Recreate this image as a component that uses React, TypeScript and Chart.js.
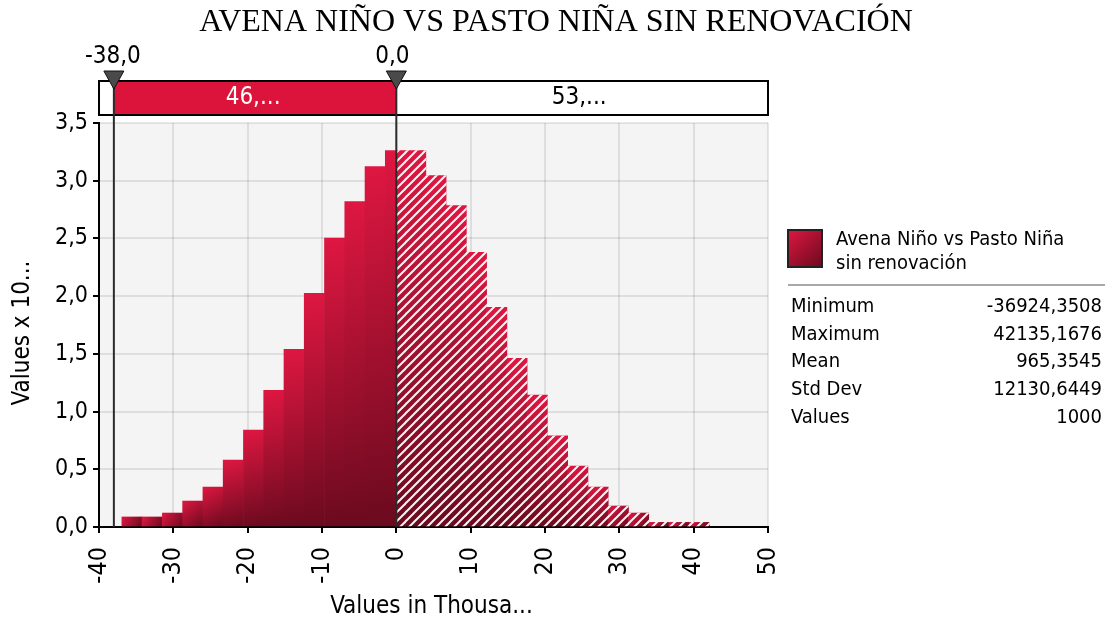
import React, { useEffect, useRef } from 'react';
import { Chart, registerables } from 'chart.js';

Chart.register(...registerables);

// ---------- data ----------
const TITLE = 'AVENA NIÑO VS PASTO NIÑA SIN RENOVACIÓN';
const X_TITLE = 'Values in Thousa...';
const Y_TITLE = 'Values x 10...';

// histogram bins (thousands) – centers of 29 equal bins between min and max
const binCenters = [
  -35.561, -32.835, -30.109, -27.383, -24.657, -21.930, -19.204, -16.478, -13.752, -11.026,
  -8.300, -5.573, -2.847, -0.121, 2.605, 5.331, 8.057, 10.784, 13.510, 16.236,
  18.962, 21.688, 24.414, 27.141, 29.867, 32.593, 35.319, 38.045, 40.771,
];
const BIN_WIDTH = 2.7262;
// densities (x 10^-5)
const binValues = [
  0.087, 0.087, 0.121, 0.225, 0.346, 0.58, 0.839, 1.185, 1.54, 2.024,
  2.503, 2.82, 3.123, 3.26, 3.26, 3.045, 2.785, 2.379, 1.903, 1.462,
  1.142, 0.79, 0.528, 0.346, 0.182, 0.121, 0.04, 0.04, 0.04,
];

const X_MIN = -40;
const X_MAX = 50;
const X_STEP = 10;
const Y_MIN = 0;
const Y_MAX = 3.5;
const Y_STEP = 0.5;

const markerValues = [-38, 0];
const markerLabels = ['-38,0', '0,0'];
const regionLabels = ['46,...', '53,...'];

const legendName = ['Avena Niño vs Pasto Niña', 'sin renovación'];
const statLabels = ['Minimum', 'Maximum', 'Mean', 'Std Dev', 'Values'];
const statValues = ['-36924,3508', '42135,1676', '965,3545', '12130,6449', '1000'];

// ---------- style ----------
const SANS = "'DejaVu Sans Condensed', 'DejaVu Sans', sans-serif";
const SERIF = "'Liberation Serif', 'Times New Roman', serif";
const RED = '#dc143c';
const RED_TOP = '#de1741';
const RED_BOTTOM = '#6a0a1e';

function makeHatch(): CanvasPattern | string {
  const s = 9;
  const c = document.createElement('canvas');
  c.width = s;
  c.height = s;
  const p = c.getContext('2d');
  if (!p) return 'rgba(255,255,255,0.5)';
  p.strokeStyle = 'rgba(255,255,255,0.95)';
  p.lineWidth = 2;
  p.lineCap = 'square';
  p.beginPath();
  p.moveTo(0, s);
  p.lineTo(s, 0);
  p.moveTo(-s / 2, s / 2);
  p.lineTo(s / 2, -s / 2);
  p.moveTo(s / 2, s * 1.5);
  p.lineTo(s * 1.5, s / 2);
  p.stroke();
  const pat = p.createPattern(c, 'repeat');
  return pat || 'rgba(255,255,255,0.5)';
}

const decorPlugin = {
  id: 'decor',
  beforeDraw(chart: any) {
    const { ctx, chartArea: a } = chart;
    ctx.save();
    ctx.fillStyle = '#f4f4f4';
    ctx.fillRect(a.left, a.top, a.right - a.left, a.bottom - a.top);
    ctx.restore();
  },
  beforeDatasetDraw(chart: any, args: any) {
    if (args.index !== 0) return;
    const { ctx, chartArea: a } = chart;
    const x0 = chart.scales.x.getPixelForValue(markerValues[1]);
    ctx.save();
    ctx.beginPath();
    ctx.rect(x0, a.top - 5, a.right - x0 + 5, a.bottom - a.top + 10);
    ctx.clip();
  },
  afterDatasetDraw(chart: any, args: any) {
    if (args.index !== 0) return;
    chart.ctx.restore();
  },
  afterDraw(chart: any) {
    const { ctx, chartArea: a } = chart;
    const xs = chart.scales.x;
    ctx.save();

    // title
    ctx.fillStyle = '#000';
    ctx.font = `32px ${SERIF}`;
    ctx.textAlign = 'center';
    ctx.textBaseline = 'alphabetic';
    ctx.fillText(TITLE, 556, 31);

    // top delimiter bar
    const barTop = 81;
    const barBot = 115;
    const mx = markerValues.map((v) => xs.getPixelForValue(v));
    ctx.fillStyle = '#fff';
    ctx.fillRect(a.left, barTop, a.right - a.left, barBot - barTop);
    ctx.fillStyle = RED;
    ctx.fillRect(mx[0], barTop, mx[1] - mx[0], barBot - barTop);
    ctx.strokeStyle = '#000';
    ctx.lineWidth = 2;
    ctx.strokeRect(a.left, barTop, a.right - a.left, barBot - barTop);

    ctx.font = `24px ${SANS}`;
    ctx.textBaseline = 'middle';
    ctx.fillStyle = '#fff';
    ctx.fillText(regionLabels[0], (mx[0] + mx[1]) / 2 - 2, (barTop + barBot) / 2);
    ctx.fillStyle = '#000';
    ctx.fillText(regionLabels[1], (mx[1] + a.right) / 2 - 3, (barTop + barBot) / 2);

    // marker lines + triangles + labels
    mx.forEach((x, i) => {
      ctx.strokeStyle = '#2b2b2b';
      ctx.lineWidth = 2;
      ctx.beginPath();
      ctx.moveTo(x, 86);
      ctx.lineTo(x, a.bottom);
      ctx.stroke();

      ctx.beginPath();
      ctx.moveTo(x - 10, 71);
      ctx.lineTo(x + 10, 71);
      ctx.lineTo(x, 89);
      ctx.closePath();
      ctx.fillStyle = '#4a4a4a';
      ctx.fill();
      ctx.strokeStyle = '#111';
      ctx.lineWidth = 1;
      ctx.stroke();

      ctx.fillStyle = '#000';
      ctx.font = `24px ${SANS}`;
      ctx.textAlign = 'center';
      ctx.textBaseline = 'alphabetic';
      ctx.fillText(markerLabels[i], x - (i === 0 ? 1 : 4), 63);
    });

    // axis titles
    ctx.fillStyle = '#000';
    ctx.font = `24px ${SANS}`;
    ctx.textAlign = 'center';
    ctx.textBaseline = 'middle';
    ctx.fillText(X_TITLE, (a.left + a.right) / 2 - 2, 607);
    ctx.save();
    ctx.translate(23, 333);
    ctx.rotate(-Math.PI / 2);
    ctx.fillText(Y_TITLE, 0, 0);
    ctx.restore();

    // legend swatch
    const sx = 788, sy = 230, sw = 34, sh = 37;
    const g = ctx.createLinearGradient(sx, sy, sx + sw, sy + sh);
    g.addColorStop(0, RED_TOP);
    g.addColorStop(1, RED_BOTTOM);
    ctx.fillStyle = g;
    ctx.fillRect(sx, sy, sw, sh);
    ctx.strokeStyle = '#222';
    ctx.lineWidth = 2;
    ctx.strokeRect(sx, sy, sw, sh);

    ctx.fillStyle = '#000';
    ctx.font = `20px ${SANS}`;
    ctx.textAlign = 'left';
    ctx.textBaseline = 'alphabetic';
    ctx.fillText(legendName[0], 836, 245);
    ctx.fillText(legendName[1], 836, 269);

    ctx.strokeStyle = '#a8a8a8';
    ctx.lineWidth = 2;
    ctx.beginPath();
    ctx.moveTo(788, 285);
    ctx.lineTo(1105, 285);
    ctx.stroke();

    statLabels.forEach((lab, i) => {
      const yb = 312 + i * 27.7;
      ctx.textAlign = 'left';
      ctx.fillText(lab, 791, yb);
      ctx.textAlign = 'right';
      ctx.fillText(statValues[i], 1102, yb);
    });

    ctx.restore();
  },
};

export default function App() {
  const ref = useRef<HTMLCanvasElement | null>(null);

  useEffect(() => {
    const canvas = ref.current;
    if (!canvas) return;
    const points = binCenters.map((x, i) => ({ x, y: binValues[i] }));
    const hatch = makeHatch();

    const gradientFill = (c: any) => {
      const chart = c.chart;
      const raw = c.raw;
      const xs = chart.scales && chart.scales.x;
      const ys = chart.scales && chart.scales.y;
      if (!raw || !xs || !ys || !chart.chartArea) return '#a8102e';
      const l = xs.getPixelForValue(raw.x - BIN_WIDTH / 2);
      const r = xs.getPixelForValue(raw.x + BIN_WIDTH / 2);
      const t = ys.getPixelForValue(raw.y);
      const b = ys.getPixelForValue(0);
      const g = chart.ctx.createLinearGradient(l, t, r, b);
      g.addColorStop(0, RED_TOP);
      g.addColorStop(1, RED_BOTTOM);
      return g;
    };

    const gridCommon = {
      color: 'rgba(0,0,0,0.09)',
      lineWidth: 2,
      tickColor: '#000',
      tickLength: 6,
      tickWidth: 2,
      offset: false,
    };

    const chart = new Chart(canvas, {
      type: 'bar',
      data: {
        datasets: [
          {
            label: 'hatch',
            data: points,
            backgroundColor: hatch as any,
            borderWidth: 0,
            grouped: false,
            barPercentage: 1,
            categoryPercentage: 1,
          } as any,
          {
            label: legendName.join(' '),
            data: points,
            backgroundColor: gradientFill,
            borderWidth: 0,
            grouped: false,
            barPercentage: 1,
            categoryPercentage: 1,
          } as any,
        ],
      },
      options: {
        animation: false,
        responsive: false,
        maintainAspectRatio: false,
        layout: { padding: { top: 123, right: 340, bottom: 0, left: 0 } },
        plugins: {
          legend: { display: false },
          title: { display: false },
          tooltip: { enabled: false },
        },
        scales: {
          x: {
            type: 'linear',
            min: X_MIN,
            max: X_MAX,
            offset: false,
            z: 1,
            ticks: {
              stepSize: X_STEP,
              autoSkip: false,
              minRotation: 90,
              maxRotation: 90,
              color: '#000',
              font: { family: SANS, size: 25 },
              padding: 14,
              callback: (v: any) => String(v),
            },
            grid: gridCommon,
            border: { color: '#000', width: 2 },
            afterFit: (s: any) => {
              s.height = 97;
            },
          },
          y: {
            type: 'linear',
            min: Y_MIN,
            max: Y_MAX,
            z: 1,
            ticks: {
              stepSize: Y_STEP,
              color: '#000',
              font: { family: SANS, size: 23 },
              padding: 5,
              callback: (v: any) => Number(v).toFixed(1).replace('.', ','),
            },
            grid: gridCommon,
            border: { color: '#000', width: 2 },
            afterFit: (s: any) => {
              s.width = 99;
            },
          },
        },
      } as any,
      plugins: [decorPlugin],
    });

    return () => chart.destroy();
  }, []);

  return (
    <div style={{ position: 'absolute', left: 0, top: 0, width: 1108, height: 624, background: '#fff' }}>
      <canvas ref={ref} width={1108} height={624} style={{ display: 'block' }} />
    </div>
  );
}
